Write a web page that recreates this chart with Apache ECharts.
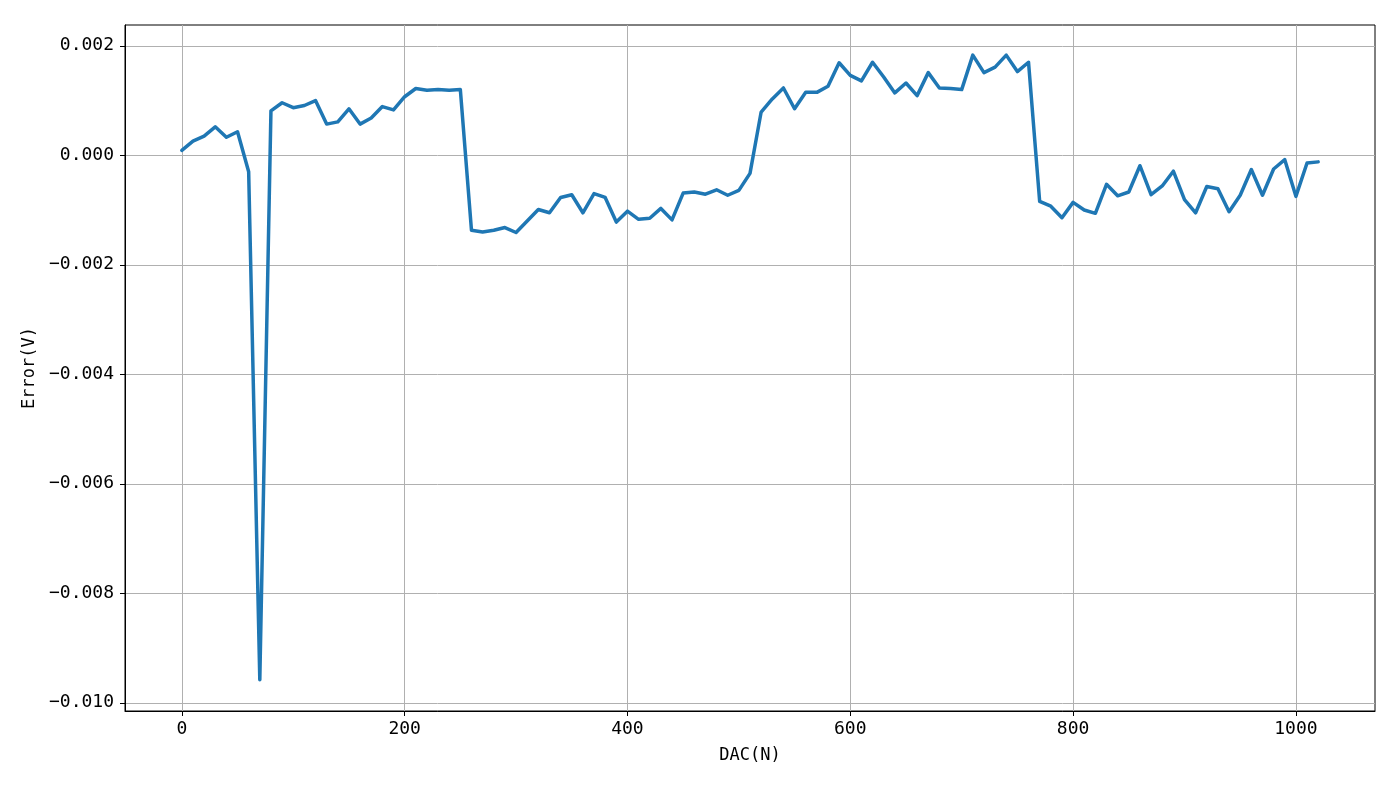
<!DOCTYPE html>
<html>
<head>
<meta charset="utf-8">
<script src="https://cdn.jsdelivr.net/npm/echarts@6/dist/echarts.min.js"></script>
<style>
  html, body { margin: 0; padding: 0; background: #ffffff; }
  #chart { width: 1400px; height: 787px; }
</style>
</head>
<body>
<div id="chart"></div>
<script>
  // DAC code steps 0..1020 by 10
  const dacCodes = [
    0, 10, 20, 30, 40, 50, 60, 70, 80, 90,
    100, 110, 120, 130, 140, 150, 160, 170, 180, 190,
    200, 210, 220, 230, 240, 250, 260, 270, 280, 290,
    300, 310, 320, 330, 340, 350, 360, 370, 380, 390,
    400, 410, 420, 430, 440, 450, 460, 470, 480, 490,
    500, 510, 520, 530, 540, 550, 560, 570, 580, 590,
    600, 610, 620, 630, 640, 650, 660, 670, 680, 690,
    700, 710, 720, 730, 740, 750, 760, 770, 780, 790,
    800, 810, 820, 830, 840, 850, 860, 870, 880, 890,
    900, 910, 920, 930, 940, 950, 960, 970, 980, 990,
    1000, 1010, 1020
  ];
  // error in volts
  const errorVolts = [
    0.00009, 0.00026, 0.00035, 0.00052, 0.00033, 0.00043, -0.00030, -0.00958, 0.00081, 0.00096,
    0.00087, 0.00091, 0.00100, 0.00057, 0.00061, 0.00085, 0.00057, 0.00068, 0.00089, 0.00083,
    0.00107, 0.00122, 0.00119, 0.00120, 0.00119, 0.00120, -0.00137, -0.00140, -0.00137, -0.00132,
    -0.00141, -0.00120, -0.00099, -0.00105, -0.00077, -0.00072, -0.00105, -0.00070, -0.00077, -0.00122,
    -0.00102, -0.00117, -0.00115, -0.00097, -0.00118, -0.00069, -0.00067, -0.00071, -0.00063, -0.00073,
    -0.00064, -0.00033, 0.00079, 0.00103, 0.00123, 0.00085, 0.00115, 0.00115, 0.00126, 0.00169,
    0.00146, 0.00136, 0.00170, 0.00143, 0.00114, 0.00132, 0.00109, 0.00151, 0.00123, 0.00122,
    0.00120, 0.00183, 0.00151, 0.00161, 0.00183, 0.00153, 0.00170, -0.00084, -0.00093, -0.00114,
    -0.00086, -0.00100, -0.00106, -0.00053, -0.00074, -0.00067, -0.00019, -0.00072, -0.00056, -0.00029,
    -0.00081, -0.00105, -0.00057, -0.00061, -0.00103, -0.00073, -0.00026, -0.00073, -0.00025, -0.00008,
    -0.00075, -0.00014, -0.00012
  ];
  const xTicks = [0, 200, 400, 600, 800, 1000];
  const yTicks = [-0.010, -0.008, -0.006, -0.004, -0.002, 0.000, 0.002];

  const seriesData = dacCodes.map((d, i) => [d, errorVolts[i]]);
  const monoFont = '"DejaVu Sans Mono", "Liberation Mono", monospace';

  let myChart = echarts.init(document.getElementById('chart'), null, { renderer: 'canvas' });
  myChart.setOption({
    animation: false,
    backgroundColor: '#ffffff',
    grid: {
      left: 125, right: 25, top: 25, bottom: 76,
      show: true,
      borderColor: '#000000',
      borderWidth: 1,
      backgroundColor: 'transparent'
    },
    xAxis: {
      type: 'value',
      min: -51,
      max: 1071,
      name: 'DAC(N)',
      nameLocation: 'middle',
      nameGap: 36,
      nameTextStyle: { fontFamily: monoFont, fontSize: 17, color: '#000000' },
      axisLine: { show: true, onZero: false, lineStyle: { color: '#000000', width: 1 } },
      axisTick: { show: true, length: 5, customValues: xTicks, lineStyle: { color: '#000000' } },
      axisLabel: {
        customValues: xTicks,
        margin: 9,
        fontFamily: monoFont,
        fontSize: 18,
        color: '#000000',
        formatter: function (v) { return String(v); }
      },
      splitLine: { show: true, lineStyle: { color: '#b0b0b0', width: 1 } }
    },
    yAxis: {
      type: 'value',
      min: -0.01015,
      max: 0.00238,
      name: 'Error(V)',
      nameLocation: 'middle',
      nameGap: 82,
      nameTextStyle: { fontFamily: monoFont, fontSize: 17, color: '#000000' },
      axisLine: { show: true, onZero: false, lineStyle: { color: '#000000', width: 1 } },
      axisTick: { show: true, length: 5, customValues: yTicks, lineStyle: { color: '#000000' } },
      axisLabel: {
        customValues: yTicks,
        margin: 11,
        fontFamily: monoFont,
        fontSize: 18,
        color: '#000000',
        formatter: function (v) {
          let s = Math.abs(v).toFixed(3);
          return (v < -1e-9 ? '\u2212' : '') + s;
        }
      },
      splitLine: { show: true, lineStyle: { color: '#b0b0b0', width: 1 } }
    },
    series: [
      {
        type: 'line',
        data: seriesData,
        showSymbol: false,
        symbol: 'none',
        lineStyle: { color: '#1f77b4', width: 3.5, join: 'round', cap: 'round' },
        itemStyle: { color: '#1f77b4' }
      }
    ]
  });
</script>
</body>
</html>
